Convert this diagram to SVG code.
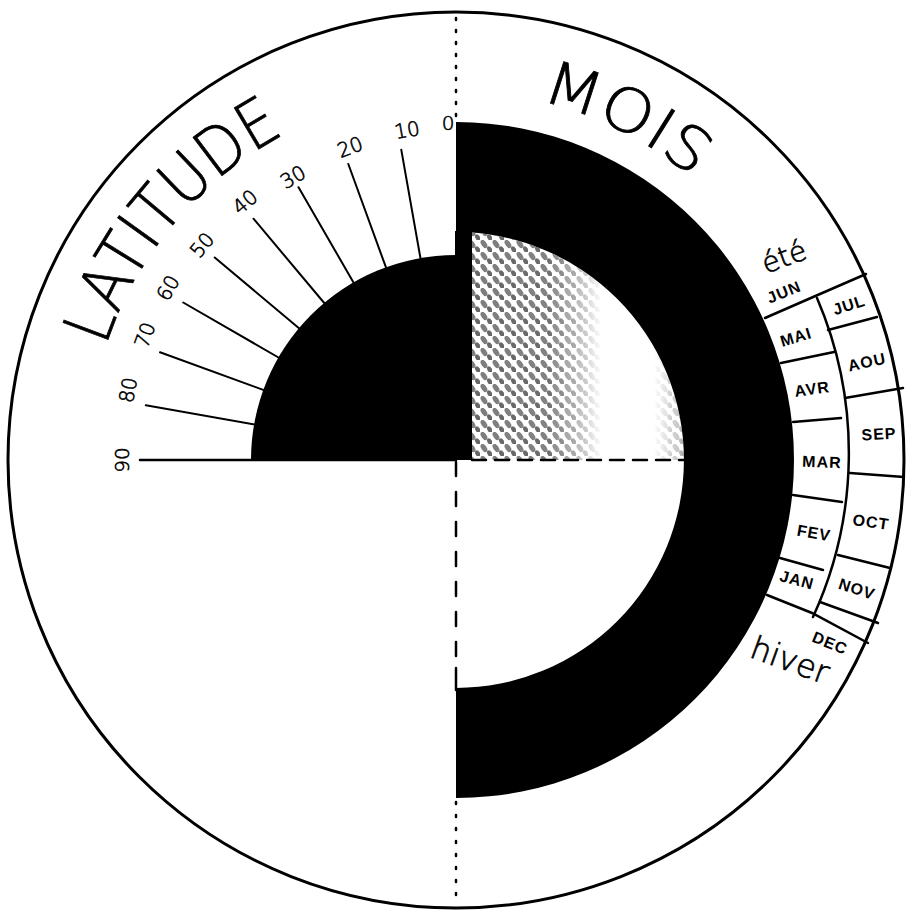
<svg xmlns="http://www.w3.org/2000/svg" width="907" height="911" viewBox="0 0 907 911">
<style>
.ln{stroke:#000;stroke-width:2.5;fill:none;stroke-linecap:round}
.tk{stroke:#000;stroke-width:2;fill:none;stroke-linecap:round}
.lat{font-family:"DejaVu Sans","Liberation Sans",sans-serif;font-size:20px;font-weight:200;stroke:#000;stroke-width:0.6;text-anchor:middle;dominant-baseline:central}
.mo{font-family:"Liberation Sans",Arial,sans-serif;font-size:16px;font-weight:bold;letter-spacing:1px;text-anchor:middle;dominant-baseline:central}
.title{font-family:"DejaVu Sans","Liberation Sans",sans-serif;font-weight:200;stroke:#000;stroke-width:0.8}
.season{font-family:"DejaVu Sans","Liberation Sans",sans-serif;font-weight:200;stroke:#000;stroke-width:0.7;text-anchor:middle;dominant-baseline:central}
</style>
<defs>
<pattern id="hatch" x="0" y="0" width="12" height="12" patternUnits="userSpaceOnUse">
<ellipse cx="4" cy="4" rx="4.6" ry="2.6" fill="#7d7d7d" transform="rotate(55 4 4)"/>
<ellipse cx="10" cy="10" rx="4" ry="2.3" fill="#666" transform="rotate(55 10 10)"/>
</pattern>
<linearGradient id="fade" x1="472" y1="0" x2="688" y2="0" gradientUnits="userSpaceOnUse">
<stop offset="0" stop-color="#fff"/>
<stop offset="0.35" stop-color="#f4f4f4"/>
<stop offset="0.5" stop-color="#777"/>
<stop offset="0.6" stop-color="#000"/>
<stop offset="0.84" stop-color="#000"/>
<stop offset="1" stop-color="#999"/>
</linearGradient>
<mask id="fadeMask" maskUnits="userSpaceOnUse" x="460" y="220" width="240" height="250">
<rect x="460" y="220" width="240" height="250" fill="url(#fade)"/>
</mask>
<path id="latArc" d="M106,346.3 A368,368 0 0 1 283.2,135.1"/>
<path id="moisArc" d="M540,101 A368,368 0 0 1 690,176"/>
</defs>
<rect width="907" height="911" fill="#fff"/>

<g id="outer-circle">
<circle cx="456" cy="460" r="448" fill="none" stroke="#000" stroke-width="3"/>
</g>

<g id="month-ring">
<path d="M456,122 A338,338 0 0 1 456,798 L456,688 A228,228 0 0 0 456,232 Z" fill="#000"/>
<rect x="455" y="231" width="17" height="229" fill="#000"/>
</g>

<g id="hatched-quarter">
<path d="M472,460 L472,232.6 A228,228 0 0 1 684,460 Z" fill="url(#hatch)" mask="url(#fadeMask)"/>
</g>

<g id="latitude-quarter">
<path d="M456,460 L251,460 A205,205 0 0 1 456,255 Z" fill="#000"/>
</g>

<g id="connectors">
<line class="ln" x1="140" y1="460" x2="456" y2="460" stroke-width="3"/>
<line class="ln" x1="472" y1="460" x2="688" y2="460" stroke-dasharray="14 9" stroke-linecap="butt"/>
<line class="ln" x1="456" y1="462" x2="456" y2="668" stroke-dasharray="14 16" stroke-linecap="butt"/>
<line class="ln" x1="456" y1="668" x2="456" y2="690"/>
<line class="ln" x1="456" y1="18" x2="456" y2="120" stroke-dasharray="2 10" stroke-linecap="butt"/>
<line class="ln" x1="456" y1="802" x2="456" y2="904" stroke-dasharray="2 11" stroke-linecap="butt"/>
</g>

<g id="latitude-ticks">
<line class="tk" x1="420.8" y1="260.1" x2="401.3" y2="149.8" stroke-width="2.5"/>
<line class="tk" x1="386.6" y1="269.2" x2="348.3" y2="164.0"/>
<line class="tk" x1="354.5" y1="284.2" x2="298.5" y2="187.2"/>
<line class="tk" x1="325.5" y1="304.5" x2="253.5" y2="218.7"/>
<line class="tk" x1="300.5" y1="329.5" x2="214.7" y2="257.5"/>
<line class="tk" x1="280.2" y1="358.5" x2="183.2" y2="302.5"/>
<line class="tk" x1="265.2" y1="390.6" x2="160.0" y2="352.3"/>
<line class="tk" x1="256.1" y1="424.8" x2="145.8" y2="405.3"/>
</g>

<g id="latitude-labels">
<text class="lat" x="448" y="123">0</text>
<text class="lat" x="407" y="130" transform="rotate(-10 407 130)">10</text>
<text class="lat" x="350" y="147" transform="rotate(-20 350 147)">20</text>
<text class="lat" x="293" y="177" transform="rotate(-30 293 177)">30</text>
<text class="lat" x="245" y="202" transform="rotate(-40 245 202)">40</text>
<text class="lat" x="202" y="245" transform="rotate(-50 202 245)">50</text>
<text class="lat" x="168" y="288" transform="rotate(-60 168 288)">60</text>
<text class="lat" x="145" y="335" transform="rotate(-70 145 335)">70</text>
<text class="lat" x="128" y="390" transform="rotate(-80 128 390)">80</text>
<text class="lat" x="122" y="460" transform="rotate(-90 122 460)">90</text>
</g>

<g id="title-latitude">
<text class="title" font-size="66"><textPath href="#latArc" textLength="284" lengthAdjust="spacingAndGlyphs">LATITUDE</textPath></text>
</g>
<g id="title-mois">
<text class="title" font-size="60"><textPath href="#moisArc" textLength="172" lengthAdjust="spacingAndGlyphs">MOIS</textPath></text>
</g>

<g id="month-grid">
<polyline class="ln" points="765,318 820,294 866,274" stroke-width="3.2"/>
<line class="ln" x1="781" y1="363" x2="834" y2="352"/>
<line class="ln" x1="793" y1="422" x2="841" y2="418"/>
<line class="ln" x1="793" y1="495" x2="842" y2="502"/>
<line class="ln" x1="780" y1="558" x2="823" y2="570"/>
<polyline class="ln" points="767,595 812,613 868,643" stroke-width="3.2"/>
<path class="ln" d="M817,298 A393,393 0 0 1 813,617"/>
<line class="ln" x1="828" y1="330" x2="877" y2="317"/>
<line class="ln" x1="845" y1="398" x2="903" y2="388"/>
<line class="ln" x1="850" y1="473" x2="904" y2="477"/>
<line class="ln" x1="838" y1="555" x2="890" y2="568"/>
<line class="ln" x1="820" y1="602" x2="878" y2="623"/>
</g>

<g id="month-labels">
<text class="mo" x="784" y="292" transform="rotate(-22 784 292)">JUN</text>
<text class="mo" x="796" y="337" transform="rotate(-17 796 337)">MAI</text>
<text class="mo" x="812" y="389" transform="rotate(-8 812 389)">AVR</text>
<text class="mo" x="822" y="462" transform="rotate(2 822 462)">MAR</text>
<text class="mo" x="814" y="533" transform="rotate(10 814 533)">FEV</text>
<text class="mo" x="797" y="580" transform="rotate(15 797 580)">JAN</text>
<text class="mo" x="849" y="305" transform="rotate(-18 849 305)">JUL</text>
<text class="mo" x="867" y="362" transform="rotate(-12 867 362)">AOU</text>
<text class="mo" x="879" y="434" transform="rotate(-3 879 434)">SEP</text>
<text class="mo" x="871" y="522" transform="rotate(8 871 522)">OCT</text>
<text class="mo" x="857" y="589" transform="rotate(18 857 589)">NOV</text>
<text class="mo" x="830" y="643" transform="rotate(22 830 643)">DEC</text>
</g>

<g id="seasons">
<text class="season" x="784" y="257" font-size="28" transform="rotate(-20 784 257)">été</text>
<text class="season" x="790" y="660" font-size="32" transform="rotate(20 790 660)">hiver</text>
</g>
</svg>
